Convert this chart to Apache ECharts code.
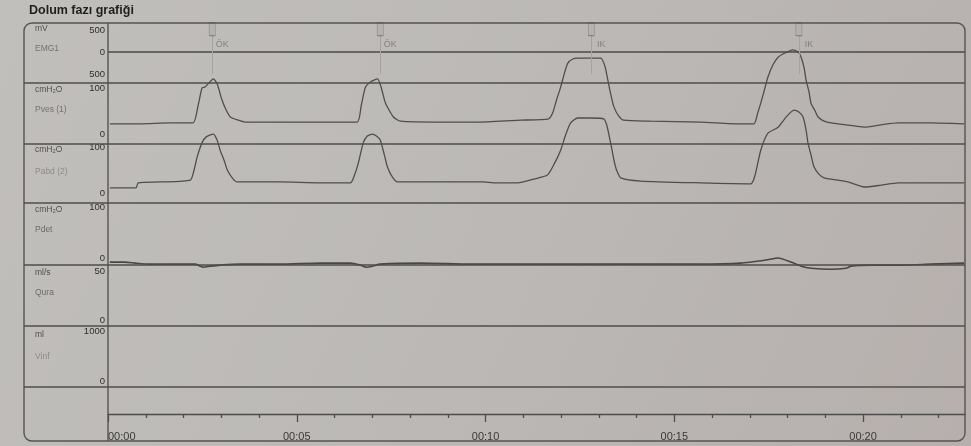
<!DOCTYPE html>
<html>
<head>
<meta charset="utf-8">
<title>Dolum fazı grafiği</title>
<script src="https://cdn.jsdelivr.net/npm/echarts@6.0.0/dist/echarts.min.js"></script>
<style>
  html, body { margin: 0; padding: 0; background: #bcbab7; }
  #chart { width: 971px; height: 446px; }
</style>
</head>
<body>
<div id="chart"></div>
<script>
// ---- Time base (minutes from the start of filling) ----
const tMax = 22.7;
const timeTicks = [0, 5, 10, 15, 20];
const timeLabels = ['00:00', '00:05', '00:10', '00:15', '00:20'];
const minuteTicks = [1, 2, 3, 4, 6, 7, 8, 9, 11, 12, 13, 14, 16, 17, 18, 19, 21, 22];

// ---- Channels ----
const channelUnits = ['mV', 'cmH₂O', 'cmH₂O', 'cmH₂O', 'ml/s', 'ml'];
const channelNames = ['EMG1', 'Pves (1)', 'Pabd (2)', 'Pdet', 'Qura', 'Vinf'];
const channelMin = [-500, 0, 0, 0, 0, 0];
const channelMax = [500, 100, 100, 100, 50, 1000];
const channelStep = [500, 100, 100, 100, 50, 1000];

// ---- Events (cough / strain) ----
const eventT = [2.76, 7.21, 12.8, 18.3];
const eventNames = ['ÖK', 'ÖK', 'IK', 'IK'];

// ---- EMG1 (mV) ----
const emgT = [0, 22.7];
const emgV = [0, 0];

// ---- Pves (cmH2O) ----
const pvesT = [0.05, 0.85, 1.64, 2.25, 2.39, 2.49, 2.57, 2.65, 2.79, 2.89,
  3.02, 3.13, 3.24, 3.45, 3.63, 4.56, 5.62, 6.60, 6.71, 6.82,
  6.95, 7.14, 7.24, 7.35, 7.56, 7.75, 8.81, 9.87, 10.93, 11.67,
  11.78, 11.88, 11.99, 12.10, 12.18, 12.31, 12.44, 12.79, 13.05, 13.16,
  13.24, 13.32, 13.40, 13.53, 13.66, 14.38, 15.70, 16.76, 17.11, 17.21,
  17.29, 17.40, 17.48, 17.61, 17.75, 17.93, 18.14, 18.28, 18.36, 18.44,
  18.49, 18.57, 18.62, 18.73, 18.81, 18.97, 19.15, 19.55, 20.03, 20.48,
  20.93, 21.80, 22.68];
const pvesV = [22, 22, 24, 24, 63, 100, 102, 109, 120, 109,
  74, 52, 37, 30, 26, 26, 26, 26, 63, 102,
  113, 120, 100, 67, 37, 28, 26, 26, 30, 33,
  46, 74, 102, 135, 154, 163, 165, 165, 165, 148,
  117, 85, 59, 39, 30, 28, 26, 22, 22, 46,
  67, 100, 124, 150, 167, 176, 183, 178, 167, 143,
  117, 91, 67, 50, 37, 28, 24, 20, 15, 20,
  24, 24, 22];

// ---- Pabd (cmH2O) ----
const pabdT = [0.05, 0.74, 0.80, 1.38, 2.18, 2.28, 2.36, 2.49, 2.60, 2.79,
  2.89, 2.97, 3.08, 3.16, 3.29, 3.42, 4.56, 5.62, 6.42, 6.53,
  6.63, 6.76, 6.87, 7.00, 7.11, 7.21, 7.32, 7.40, 7.53, 7.67,
  8.81, 9.95, 10.21, 10.85, 11.27, 11.64, 11.83, 11.99, 12.12, 12.25,
  12.44, 12.79, 13.13, 13.21, 13.26, 13.34, 13.40, 13.47, 13.58, 14.11,
  15.70, 17.03, 17.14, 17.29, 17.48, 17.75, 17.96, 18.17, 18.30, 18.41,
  18.49, 18.54, 18.62, 18.70, 18.83, 18.97, 19.60, 20.03, 20.48, 20.93,
  21.80, 22.68];
const pabdV = [11, 11, 22, 24, 28, 50, 78, 109, 122, 128,
  115, 93, 70, 50, 33, 24, 24, 22, 22, 39,
  65, 109, 124, 128, 124, 115, 83, 57, 35, 24,
  24, 24, 22, 22, 30, 39, 65, 93, 126, 152,
  163, 163, 161, 148, 130, 98, 72, 50, 33, 26,
  22, 20, 39, 93, 130, 143, 165, 180, 176, 165,
  137, 109, 83, 57, 41, 33, 24, 13, 17, 22,
  22, 22];

// ---- Pdet (cmH2O) ----
const pdetT = [0.05, 0.45, 0.72, 1.11, 1.91, 2.31, 2.44, 2.52, 2.71, 2.97,
  3.50, 4.56, 5.62, 6.42, 6.69, 6.84, 7.00, 7.21, 8.28, 9.60,
  10.93, 11.99, 13.05, 14.38, 15.70, 16.76, 17.43, 17.75, 18.09, 18.36,
  18.62, 19.15, 19.55, 19.68, 20.21, 21.01, 21.80, 22.68];
const pdetV = [-8, -8, -10, -12, -12, -12, -16, -18, -16, -14,
  -12, -12, -10, -10, -14, -18, -16, -12, -10, -12,
  -12, -12, -12, -12, -12, -10, -4, 0, -8, -16,
  -20, -22, -20, -16, -14, -14, -12, -10];

// ---- Layout ----
const FONT = '"Liberation Sans", Arial, "DejaVu Sans", sans-serif';
const INK = '#4c4c4c';
const plotL = 108, plotR = 965;
const frame = { x: 24, y: 23, w: 941, h: 418 };
const panelTops = [30, 88, 147, 207, 271, 331];
const panelHeights = [44, 46, 46, 51, 49, 50];
const separatorsY = [83, 144, 203, 265, 326, 387];
const timeAxisY = 414;
const unitY = [29, 90, 150, 210, 273, 335];
const nameY = [49, 110, 172, 230, 293, 357];
const nameColors = ['#747371', '#747371', '#8d8b89', '#6c6b69', '#6c6b69', '#8d8b89'];

const pairs = (ts, vs) => ts.map((t, i) => [t, vs[i]]);

const grids = panelTops.map((top, i) => ({
  left: plotL, width: plotR - plotL, top: top, height: panelHeights[i],
  containLabel: false, outerBoundsMode: 'none'
}));
grids.push({
  left: plotL, width: plotR - plotL, top: separatorsY[5], height: timeAxisY - separatorsY[5],
  containLabel: false, outerBoundsMode: 'none'
});

const xAxes = panelTops.map((_, i) => ({
  type: 'value', gridIndex: i, min: 0, max: tMax, show: false
}));
// time axis: labelled 5-minute ticks
xAxes.push({
  type: 'value', gridIndex: 6, min: 0, max: tMax, position: 'bottom',
  axisLine: { show: true, lineStyle: { color: INK, width: 1.4 } },
  axisTick: { show: true, length: 8, customValues: timeTicks, lineStyle: { color: INK, width: 1.3 } },
  splitLine: { show: false },
  axisLabel: {
    show: true, customValues: timeTicks, margin: 17, fontSize: 11, color: '#3a3a3a',
    fontFamily: FONT, alignMinLabel: 'left',
    formatter: v => timeLabels[timeTicks.indexOf(v)] || ''
  }
});
// time axis: 1-minute ticks
xAxes.push({
  type: 'value', gridIndex: 6, min: 0, max: tMax, position: 'bottom',
  axisLine: { show: false },
  axisTick: { show: true, length: 4, customValues: minuteTicks, lineStyle: { color: INK, width: 1.3 } },
  splitLine: { show: false },
  axisLabel: { show: false }
});

const yAxes = panelTops.map((_, i) => ({
  type: 'value', gridIndex: i,
  min: channelMin[i], max: channelMax[i], interval: channelStep[i],
  axisLine: { show: false }, axisTick: { show: false }, splitLine: { show: false },
  axisLabel: {
    show: true, margin: 3, fontSize: 9.5, color: '#2f2f2f', fontFamily: FONT,
    formatter: v => String(Math.abs(v))
  }
}));
yAxes.push({ type: 'value', gridIndex: 6, min: 0, max: 1, show: false });

const traceStyle = { color: '#4e4e4e', width: 1.3 };

const series = [
  {
    type: 'line', name: 'EMG1', xAxisIndex: 0, yAxisIndex: 0,
    data: pairs(emgT, emgV), showSymbol: false, clip: false, silent: true,
    lineStyle: { color: '#4a4a4a', width: 1.5 }
  },
  {
    type: 'scatter', name: 'Olay', xAxisIndex: 0, yAxisIndex: 0, silent: true, z: 5, clip: false,
    data: eventT.map((t, i) => ({ value: [t, 520], name: eventNames[i] })),
    symbol: 'rect', symbolSize: [6, 13],
    itemStyle: { color: '#b3b1ae', borderColor: '#7a7876', borderWidth: 0.8 },
    label: {
      show: true, position: 'bottom', distance: 2, offset: [10, 2],
      formatter: p => p.name, fontSize: 9, color: '#767472', fontFamily: FONT
    },
    markLine: {
      silent: true, symbol: 'none', label: { show: false },
      lineStyle: { color: '#a5a3a0', width: 1, type: 'solid' },
      data: eventT.map(t => ({ xAxis: t }))
    }
  },
  {
    type: 'line', name: 'Pves', xAxisIndex: 1, yAxisIndex: 1,
    data: pairs(pvesT, pvesV), showSymbol: false, clip: false, silent: true,
    smooth: 0.2, lineStyle: traceStyle
  },
  {
    type: 'line', name: 'Pabd', xAxisIndex: 2, yAxisIndex: 2,
    data: pairs(pabdT, pabdV), showSymbol: false, clip: false, silent: true,
    smooth: 0.2, lineStyle: traceStyle
  },
  {
    type: 'line', name: 'Pdet', xAxisIndex: 3, yAxisIndex: 3,
    data: pairs(pdetT, pdetV), showSymbol: false, clip: false, silent: true,
    smooth: 0.2, lineStyle: { color: '#474747', width: 1.6 }
  }
];

// frame, panel separators and channel captions
const graphics = [
  {
    type: 'text', left: 29, top: 4, silent: true,
    style: { text: 'Dolum fazı grafiği', fontSize: 12.5, fontWeight: 'bold', fontFamily: FONT, fill: '#1f1f1f' }
  },
  {
    type: 'rect', silent: true, z: 10,
    shape: { x: frame.x, y: frame.y, width: frame.w, height: frame.h, r: 8 },
    style: { fill: 'none', stroke: '#555453', lineWidth: 1.4 }
  },
  {
    type: 'line', silent: true, z: 10,
    shape: { x1: plotL, y1: frame.y, x2: plotL, y2: frame.y + frame.h },
    style: { stroke: '#555453', lineWidth: 1.4 }
  }
];
separatorsY.forEach(y => graphics.push({
  type: 'line', silent: true, z: 10,
  shape: { x1: frame.x, y1: y, x2: frame.x + frame.w, y2: y },
  style: { stroke: '#4f4e4d', lineWidth: 1.5 }
}));
channelUnits.forEach((u, i) => {
  graphics.push({
    type: 'text', x: 35, y: unitY[i], silent: true,
    style: { text: u, fontSize: 8.5, fontFamily: FONT, fill: '#505050', verticalAlign: 'middle' }
  });
  graphics.push({
    type: 'text', x: 35, y: nameY[i], silent: true,
    style: { text: channelNames[i], fontSize: 8.5, fontFamily: FONT, fill: nameColors[i], verticalAlign: 'middle' }
  });
});

const chart = echarts.init(document.getElementById('chart'), null, { renderer: 'canvas' });
chart.setOption({
  animation: false,
  backgroundColor: new echarts.graphic.LinearGradient(0, 0, 1, 1, [
    { offset: 0, color: '#c1bfbc' },
    { offset: 0.6, color: '#bab7b4' },
    { offset: 1, color: '#b6afad' }
  ]),
  textStyle: { fontFamily: FONT },
  grid: grids,
  xAxis: xAxes,
  yAxis: yAxes,
  series: series,
  graphic: graphics
});
</script>
</body>
</html>
